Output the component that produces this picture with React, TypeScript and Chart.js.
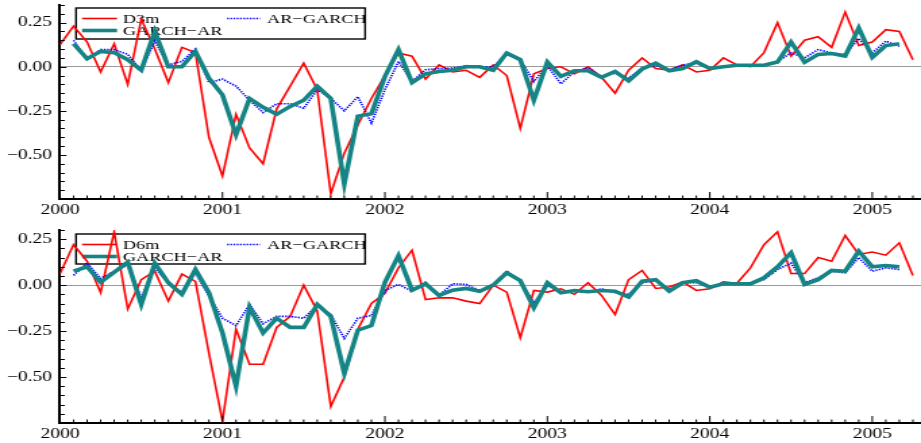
import React, { useEffect, useRef } from "react";
import { Chart, registerables } from "chart.js";

Chart.register(...registerables);

// ---------- data ----------
const START_YEAR = 2000;
const FORECAST_START_MONTH = 1; // forecasts begin 2000-02
const X_MIN = 2000;
const X_MAX = 2005.3;
const yearTicks = [2000, 2001, 2002, 2003, 2004, 2005];
const yTickValues = [-0.5, -0.25, 0, 0.25];

const labelArGarch = "AR\u2212GARCH";
const labelGarchAr = "GARCH\u2212AR";

// Panel 1 : D3m (2000-01 .. 2005-04)
const d3m = [
  0.125, 0.23, 0.14, -0.03, 0.13, -0.1, 0.27, 0.1, -0.09, 0.11,
  0.08, -0.4, -0.62, -0.27, -0.46, -0.55, -0.24, -0.11, 0.02, -0.13,
  -0.72, -0.49, -0.33, -0.18, -0.05, 0.078, 0.06, -0.07, 0.01, -0.03,
  -0.02, -0.06, 0.01, -0.05, -0.35, -0.04, -0.01, 0.0, -0.04, 0.0,
  -0.06, -0.15, -0.02, 0.05, -0.01, -0.02, 0.01, -0.03, -0.02, 0.05,
  0.01, 0.0, 0.08, 0.25, 0.06, 0.15, 0.17, 0.11, 0.31, 0.12,
  0.14, 0.21, 0.2, 0.04,
];
// forecasts 2000-02 .. 2005-03
const garchAr3 = [
  0.13, 0.045, 0.087, 0.08, 0.04, -0.02, 0.2, 0.0, 0.0, 0.087,
  -0.065, -0.16, -0.385, -0.18, -0.23, -0.27, -0.225, -0.19, -0.11, -0.18,
  -0.665, -0.28, -0.267, -0.055, 0.097, -0.09, -0.04, -0.027, -0.02, 0.0,
  0.0, -0.02, 0.078, 0.04, -0.19, 0.027, -0.055, -0.023, -0.023, -0.06,
  -0.027, -0.08, -0.013, 0.02, -0.023, -0.01, 0.028, -0.01, 0.0, 0.008,
  0.008, 0.008, 0.027, 0.14, 0.025, 0.07, 0.075, 0.06, 0.22, 0.053,
  0.12, 0.13,
];
const arGarch3 = [
  0.15, 0.04, 0.097, 0.097, 0.07, -0.02, 0.145, 0.01, 0.03, 0.1,
  -0.09, -0.07, -0.11, -0.19, -0.26, -0.21, -0.21, -0.235, -0.13, -0.18,
  -0.25, -0.17, -0.32, -0.13, 0.03, -0.083, -0.017, -0.011, -0.008, 0.006,
  0.0, 0.0, 0.068, 0.04, -0.083, 0.006, -0.097, -0.027, -0.008, -0.055,
  -0.036, -0.065, -0.008, 0.006, -0.017, 0.01, 0.02, -0.008, 0.0, 0.006,
  0.008, 0.01, 0.03, 0.078, 0.05, 0.097, 0.078, 0.07, 0.16, 0.078,
  0.145, 0.115,
];

// Panel 2 : D6m
const d6m = [
  0.063, 0.22, 0.13, -0.04, 0.29, -0.13, 0.03, 0.076, -0.087, 0.06,
  0.02, -0.37, -0.74, -0.24, -0.43, -0.43, -0.23, -0.17, 0.0, -0.14,
  -0.66, -0.5, -0.24, -0.1, -0.045, 0.094, 0.19, -0.078, -0.069, -0.069,
  -0.087, -0.1, 0.0, -0.038, -0.286, -0.029, -0.038, -0.02, -0.05, 0.013,
  -0.056, -0.16, 0.03, 0.08, -0.018, -0.01, 0.018, -0.029, -0.02, 0.018,
  0.01, 0.094, 0.22, 0.29, 0.063, 0.063, 0.15, 0.13, 0.27, 0.167,
  0.18, 0.163, 0.23, 0.053,
];
const garchAr6 = [
  0.076, 0.1, 0.016, 0.07, 0.125, -0.105, 0.12, 0.013, -0.05, 0.085,
  -0.04, -0.26, -0.55, -0.12, -0.26, -0.18, -0.23, -0.23, -0.105, -0.17,
  -0.48, -0.245, -0.22, 0.015, 0.16, -0.027, 0.007, -0.056, -0.027, -0.018,
  -0.033, 0.0, 0.067, 0.025, -0.123, 0.013, -0.042, -0.029, -0.036, -0.029,
  -0.033, -0.065, 0.022, 0.03, -0.033, 0.013, 0.025, -0.011, 0.007, 0.007,
  0.007, 0.04, 0.1, 0.176, 0.004, 0.03, 0.08, 0.076, 0.185, 0.1,
  0.107, 0.1,
];
const arGarch6 = [
  0.053, 0.12, 0.036, 0.076, 0.11, -0.07, 0.094, 0.013, -0.04, 0.067,
  -0.06, -0.18, -0.22, -0.105, -0.21, -0.17, -0.17, -0.18, -0.11, -0.16,
  -0.29, -0.18, -0.165, -0.03, 0.004, -0.033, 0.016, -0.056, 0.007, 0.004,
  -0.029, 0.004, 0.076, 0.022, -0.096, -0.002, -0.042, -0.033, -0.038, -0.02,
  -0.04, -0.05, 0.013, 0.025, -0.024, 0.013, 0.013, -0.014, 0.013, 0.009,
  0.007, 0.03, 0.085, 0.12, 0.013, 0.04, 0.076, 0.067, 0.15, 0.076,
  0.094, 0.085,
];

// ---------- layout ----------
const PAGE_W = 921;
const S = 1.35; // horizontal stretch of the drawing
const W = Math.round(PAGE_W / S);
const FONT = "'Liberation Serif', 'Times New Roman', serif";

const monthToX = (m: number) => START_YEAR + m / 12;
const toPoints = (vals: number[], offset: number) =>
  vals.map((v, i) => ({ x: monthToX(i + offset), y: v }));
const fmtY = (v: number) =>
  (v < -1e-9 ? "\u2212" : "") + Math.abs(v).toFixed(2);

const inTicksPlugin = {
  id: "inTicks",
  afterDraw(chart: any) {
    const { ctx, chartArea } = chart;
    const x = chart.scales.x;
    const y = chart.scales.y;
    ctx.save();
    ctx.strokeStyle = "#000";
    ctx.lineWidth = 1;
    const k0 = Math.ceil(y.min / 0.05 - 1e-9);
    const k1 = Math.floor(y.max / 0.05 + 1e-9);
    for (let k = k0; k <= k1; k++) {
      const v = k * 0.05;
      const major = Math.abs(v / 0.25 - Math.round(v / 0.25)) < 1e-6;
      const py = Math.round(y.getPixelForValue(v)) + 0.5;
      const len = (major ? 5 : 3.5) / S;
      ctx.beginPath();
      ctx.moveTo(chartArea.left, py);
      ctx.lineTo(chartArea.left + 1 + len, py);
      ctx.stroke();
    }
    const m0 = Math.ceil(x.min * 12 - 1e-9);
    const m1 = Math.floor(x.max * 12 + 1e-9);
    for (let m = m0; m <= m1; m++) {
      const px = x.getPixelForValue(m / 12);
      const major = m % 12 === 0;
      const len = major ? 7 : 3.5;
      ctx.beginPath();
      ctx.moveTo(px, chartArea.bottom);
      ctx.lineTo(px, chartArea.bottom - len);
      ctx.stroke();
    }
    ctx.restore();
  },
};

const legendBoxPlugin = {
  id: "legendBox",
  beforeDatasetsDraw(chart: any, _args: any, opts: any) {
    const { ctx, chartArea } = chart;
    const x0 = chartArea.left + 16 / S;
    const y0 = chartArea.top + opts.dy;
    const w = 289 / S;
    const h = opts.h;
    ctx.save();
    ctx.fillStyle = "#fff";
    ctx.fillRect(x0, y0, w, h);
    ctx.strokeStyle = "#000";
    ctx.lineWidth = 1.4;
    ctx.strokeRect(x0, y0, w, h);
    ctx.font = `13.5px ${FONT}`;
    ctx.textBaseline = "middle";
    ctx.textAlign = "left";
    chart.data.datasets.forEach((ds: any, i: number) => {
      const col = i === 1 ? 1 : 0;
      const row = i === 2 ? 1 : 0;
      const sx = x0 + (col === 0 ? 6 : 151) / S;
      const ex = x0 + (col === 0 ? 41 : 184) / S;
      const tx = x0 + (col === 0 ? 47 : 191) / S;
      const cy = y0 + (row === 0 ? 10.5 : 22.5);
      ctx.save();
      ctx.strokeStyle = ds.borderColor;
      ctx.lineWidth = ds.borderWidth;
      ctx.setLineDash(ds.borderDash || []);
      ctx.beginPath();
      ctx.moveTo(sx, cy);
      ctx.lineTo(ex, cy);
      ctx.stroke();
      ctx.restore();
      ctx.fillStyle = "#000";
      ctx.fillText(ds.label, tx, cy + 0.5);
    });
    ctx.restore();
  },
};

type PanelProps = {
  actualLabel: string;
  actual: number[];
  arGarch: number[];
  garchAr: number[];
  yMin: number;
  yMax: number;
  height: number;
  padTop: number;
  axisH: number;
  legendDy: number;
  legendH: number;
};

function Panel(p: PanelProps) {
  const ref = useRef<HTMLCanvasElement | null>(null);
  useEffect(() => {
    if (!ref.current) return;
    const chart = new Chart(ref.current, {
      type: "line",
      data: {
        datasets: [
          {
            label: p.actualLabel,
            data: toPoints(p.actual, 0),
            borderColor: "#ff0000",
            borderWidth: 1.6,
            pointRadius: 0,
            fill: false,
            tension: 0,
            order: 2,
          },
          {
            label: labelArGarch,
            data: toPoints(p.arGarch, FORECAST_START_MONTH),
            borderColor: "#0000ff",
            borderWidth: 1.7,
            borderDash: [1.3, 1.1],
            pointRadius: 0,
            fill: false,
            tension: 0,
            order: 1,
          },
          {
            label: labelGarchAr,
            data: toPoints(p.garchAr, FORECAST_START_MONTH),
            borderColor: "#158484",
            borderWidth: 3.6,
            pointRadius: 0,
            fill: false,
            tension: 0,
            order: 0,
          },
        ],
      } as any,
      options: {
        animation: false,
        responsive: false,
        maintainAspectRatio: false,
        devicePixelRatio: 1,
        layout: { padding: { top: p.padTop, right: 0, left: 0, bottom: 0 } },
        plugins: {
          legend: { display: false },
          tooltip: { enabled: false },
          legendBox: { dy: p.legendDy, h: p.legendH },
        } as any,
        scales: {
          x: {
            type: "linear",
            min: X_MIN,
            max: X_MAX,
            afterBuildTicks: (s: any) => {
              s.ticks = yearTicks.map((v) => ({ value: v }));
            },
            afterFit: (s: any) => {
              s.height = p.axisH;
              s.paddingLeft = 0;
              s.paddingRight = 0;
            },
            grid: { display: false, drawTicks: false },
            border: { display: true, color: "#000", width: 2 },
            ticks: {
              autoSkip: false,
              maxRotation: 0,
              padding: 2,
              color: "#000",
              font: { family: FONT, size: 14.5 },
              callback: (v: any) => String(v),
            },
          },
          y: {
            type: "linear",
            min: p.yMin,
            max: p.yMax,
            afterBuildTicks: (s: any) => {
              s.ticks = yTickValues.map((v) => ({ value: v }));
            },
            afterFit: (s: any) => {
              s.width = 60 / S;
              s.paddingTop = 0;
              s.paddingBottom = 0;
            },
            grid: {
              drawTicks: false,
              lineWidth: 1,
              color: (c: any) =>
                c.tick && Math.abs(c.tick.value) < 1e-9 ? "#9a9a9a" : "rgba(0,0,0,0)",
            },
            border: { display: true, color: "#000", width: 2 },
            ticks: {
              padding: 8 / S,
              color: "#000",
              font: { family: FONT, size: 14.5 },
              callback: (v: any) => fmtY(Number(v)),
            },
          },
        },
      } as any,
      plugins: [legendBoxPlugin, inTicksPlugin] as any,
    });
    return () => chart.destroy();
  }, []);
  return (
    <canvas
      ref={ref}
      width={W}
      height={p.height}
      style={{ display: "block", width: PAGE_W + "px", height: p.height + "px" }}
    />
  );
}

export default function App() {
  return (
    <div
      style={{
        position: "absolute",
        left: 0,
        top: 0,
        width: PAGE_W + "px",
        height: "443px",
        background: "#fff",
      }}
    >
      <Panel
        actualLabel="D3m"
        actual={d3m}
        arGarch={arGarch3}
        garchAr={garchAr3}
        yMin={-0.75}
        yMax={0.35}
        height={220}
        padTop={5}
        axisH={21}
        legendDy={3}
        legendH={31}
      />
      <Panel
        actualLabel="D6m"
        actual={d6m}
        arGarch={arGarch6}
        garchAr={garchAr6}
        yMin={-0.75}
        yMax={0.3}
        height={223}
        padTop={10}
        axisH={20}
        legendDy={4}
        legendH={30}
      />
    </div>
  );
}
